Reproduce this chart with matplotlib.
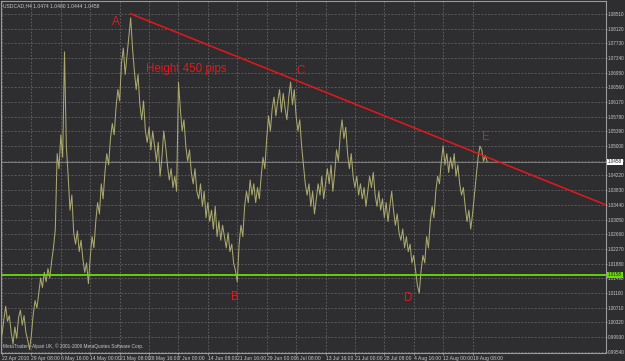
import matplotlib
matplotlib.use("Agg")
import matplotlib.pyplot as plt

# ---------------- data ----------------
header_text = "USDCAD,H4 1.0474 1.0480 1.0444 1.0458"
copyright_text = "MetaTrader - Alpari UK, \u00a9 2001-2009 MetaQuotes Software Corp."

date_labels = ["22 Apr 2010", "29 Apr 08:00", "6 May 16:00", "14 May 00:00",
               "21 May 08:00", "28 May 16:00", "7 Jun 00:00", "14 Jun 08:00",
               "21 Jun 16:00", "29 Jun 00:00", "6 Jul 08:00", "13 Jul 16:00",
               "21 Jul 00:00", "28 Jul 08:00", "4 Aug 16:00", "12 Aug 00:00",
               "19 Aug 08:00"]
bars_per_label = 32
bars_per_sample = 2

closes = [
    # 22 Apr - 6 May
    1.0000, 1.0040, 1.0075, 1.0035, 1.0050, 1.0005, 0.9975, 1.0020, 0.9990, 1.0045,
    1.0065, 1.0025, 1.0050, 1.0005, 0.9985, 0.9960, 1.0000, 1.0055, 1.0090, 1.0070,
    1.0110, 1.0150, 1.0125, 1.0165, 1.0140, 1.0175, 1.0150, 1.0195, 1.0230,
    # 6 May - 14 May
    1.0280, 1.0480, 1.0440, 1.0530, 1.0470, 1.0750, 1.0500, 1.0420, 1.0330, 1.0370,
    1.0270, 1.0240, 1.0275, 1.0220, 1.0250, 1.0200, 1.0165, 1.0190, 1.0135, 1.0205,
    # 14 May - 25 May (A)
    1.0260, 1.0230, 1.0300, 1.0350, 1.0320, 1.0400, 1.0360, 1.0430, 1.0480, 1.0450,
    1.0520, 1.0560, 1.0530, 1.0600, 1.0650, 1.0620, 1.0720, 1.0760, 1.0690, 1.0740,
    1.0790, 1.0840,
    # 25 May - 8 Jun
    1.0760, 1.0700, 1.0650, 1.0690, 1.0610, 1.0570, 1.0620, 1.0540, 1.0510, 1.0550,
    1.0490, 1.0540, 1.0500, 1.0460, 1.0510, 1.0420, 1.0470, 1.0540, 1.0500, 1.0450,
    1.0410, 1.0440, 1.0390, 1.0420, 1.0380, 1.0670, 1.0600, 1.0540, 1.0570,
    # 8 Jun - 22 Jun (B)
    1.0500, 1.0460, 1.0490, 1.0430, 1.0400, 1.0440, 1.0380, 1.0360, 1.0400, 1.0340,
    1.0380, 1.0310, 1.0350, 1.0300, 1.0330, 1.0280, 1.0340, 1.0260, 1.0300, 1.0250,
    1.0290, 1.0260, 1.0230, 1.0270, 1.0220, 1.0240, 1.0190, 1.0170, 1.0140,
    # 22 Jun - 6 Jul (C)
    1.0240, 1.0290, 1.0260, 1.0340, 1.0380, 1.0350, 1.0410, 1.0370, 1.0400, 1.0350,
    1.0390, 1.0360, 1.0420, 1.0470, 1.0440, 1.0520, 1.0580, 1.0540, 1.0600, 1.0630,
    1.0580, 1.0620, 1.0650, 1.0590, 1.0640, 1.0600, 1.0570, 1.0630, 1.0670, 1.0610,
    1.0650, 1.0580,
    # 6 Jul - 21 Jul
    1.0540, 1.0570, 1.0500, 1.0450, 1.0400, 1.0370, 1.0400, 1.0340, 1.0380, 1.0320,
    1.0360, 1.0400, 1.0370, 1.0420, 1.0360, 1.0400, 1.0440, 1.0400, 1.0450, 1.0380,
    1.0430, 1.0490, 1.0460, 1.0530, 1.0570, 1.0520, 1.0550,
    # 21 Jul - 5 Aug (D)
    1.0480, 1.0440, 1.0480, 1.0420, 1.0390, 1.0420, 1.0370, 1.0400, 1.0360, 1.0390,
    1.0340, 1.0380, 1.0420, 1.0390, 1.0430, 1.0370, 1.0340, 1.0380, 1.0330, 1.0360,
    1.0310, 1.0350, 1.0300, 1.0340, 1.0380, 1.0330, 1.0290, 1.0320, 1.0270, 1.0250,
    1.0280, 1.0230, 1.0260, 1.0220, 1.0240, 1.0190, 1.0210, 1.0170, 1.0130, 1.0110,
    1.0170,
    # 5 Aug - 20 Aug (E)
    1.0210, 1.0190, 1.0260, 1.0230, 1.0300, 1.0340, 1.0310, 1.0380, 1.0420, 1.0400,
    1.0460, 1.0500, 1.0450, 1.0480, 1.0430, 1.0470, 1.0440, 1.0480, 1.0420, 1.0450,
    1.0400, 1.0370, 1.0390, 1.0340, 1.0300, 1.0330, 1.0280, 1.0320, 1.0370, 1.0420,
    1.0470, 1.0500, 1.0490, 1.0460, 1.0475, 1.0458,
]

price_ticks = [0.99540, 0.99930, 1.00320, 1.00710, 1.01100, 1.01490, 1.01880, 1.02270,
               1.02660, 1.03050, 1.03440, 1.03830, 1.04220, 1.04610, 1.05000, 1.05390,
               1.05780, 1.06170, 1.06560, 1.06950, 1.07340, 1.07730, 1.08120, 1.08510]

trend_bars = [140, 657]
trend_prices = [1.0851, 1.0344]
support_price = 1.0158
last_price = 1.0458

wave_labels = ["A", "B", "C", "D", "E"]
wave_bars = [124, 253, 325, 442, 527]
wave_prices = [1.0830, 1.0100, 1.0700, 1.0096, 1.0525]
height_label = "Height 450 pips"
height_pos = (157, 1.0705)

# ---------------- style ----------------
BG = "#2e2e31"
GRID = "#66666a"
TXT = "#c8c8c8"
PRICE = "#aaa86c"
RED = "#e8161b"
GREEN = "#66e000"
FONT = "Liberation Sans"

fig = plt.figure(figsize=(6.25, 3.61), dpi=100, facecolor=BG)
ax = fig.add_axes([1 / 625, 8 / 361, 605 / 625, 352 / 361], facecolor=BG)

xs = [i * bars_per_sample for i in range(len(closes))]
ax.plot(xs, closes, color=PRICE, lw=0.75, zorder=3)

ax.plot(trend_bars, trend_prices, color=RED, lw=1.1, zorder=4)
ax.axhline(support_price, color=GREEN, lw=1.3, zorder=4)
ax.axhline(last_price, color="#8a8a8a", lw=0.6, zorder=2)

ax.set_xlim(-1.1, 657.2)
ax.set_ylim(0.9951, 1.0885)

xt = [i * bars_per_label for i in range(len(date_labels))]
ax.set_xticks(xt)
ax.set_xticklabels(date_labels, ha="left", fontsize=3.6, color=TXT, family=FONT)
ax.set_yticks(price_ticks)
ax.set_yticklabels([f"{p:.5f}" for p in price_ticks], fontsize=3.3, color=TXT,
                   family=FONT)
ax.yaxis.tick_right()
ax.tick_params(axis="x", colors="#a0a0a0", length=1.5, width=0.6, pad=0.6,
               labelcolor=TXT)
ax.tick_params(axis="y", colors="#a0a0a0", length=1.0, width=0.6, pad=0.4,
               labelcolor=TXT)

ax.grid(True, color=GRID, lw=0.6, linestyle=(0, (2, 2)))
for s in ax.spines.values():
    s.set_color("#9a9a9a")
    s.set_linewidth(0.8)

for lab, b, p in zip(wave_labels, wave_bars, wave_prices):
    ax.text(b, p, lab, color=RED, fontsize=8.3, family=FONT,
            ha="center", va="center", zorder=5)
ax.text(height_pos[0], height_pos[1], height_label, color=RED, fontsize=8.3,
        family=FONT, ha="left", va="center", zorder=5)

ax.text(0.004, 0.993, header_text, transform=ax.transAxes, fontsize=3.6,
        color=TXT, family=FONT, ha="left", va="top")
ax.text(0.004, 0.01, copyright_text, transform=ax.transAxes, fontsize=3.4,
        color=TXT, family=FONT, ha="left", va="bottom")

# price labels on the axis
ax.text(1.003, last_price, f"{last_price:.4f}", transform=ax.get_yaxis_transform(),
        fontsize=3.3, color="#202020", family=FONT, ha="left", va="center",
        bbox=dict(boxstyle="square,pad=0.2", fc="white", ec="none"), zorder=6,
        clip_on=False)
ax.text(1.003, support_price, f"{support_price:.4f}", transform=ax.get_yaxis_transform(),
        fontsize=3.3, color="#202020", family=FONT, ha="left", va="center",
        bbox=dict(boxstyle="square,pad=0.2", fc=GREEN, ec="none"), zorder=6,
        clip_on=False)

fig.savefig("out.png", dpi=100, facecolor=BG)
